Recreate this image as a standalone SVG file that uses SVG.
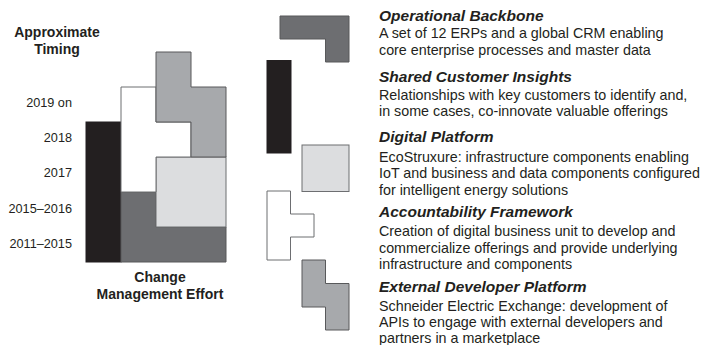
<svg xmlns="http://www.w3.org/2000/svg" width="706" height="345" viewBox="0 0 706 345">
<style>
.blk{fill:#231f20;stroke:#231f20;stroke-width:1}
.dk{fill:#6d6e71;stroke:#58595b;stroke-width:1}
.md{fill:#a7a9ac;stroke:#58595b;stroke-width:1}
.lt{fill:#dcdddf;stroke:#6d6e71;stroke-width:1}
.wh{fill:#ffffff;stroke:#6d6e71;stroke-width:1}
text{font-family:"Liberation Sans",Arial,sans-serif;fill:#231f20}
.lab{font-size:14px;font-weight:bold}
.yr{font-size:12.7px;text-anchor:end}
.ttl{font-size:15.5px;font-weight:bold;font-style:italic}
.body{font-size:14.3px}
</style>
<rect width="706" height="345" fill="#ffffff"/>
<g id="axis-labels">
<text class="lab" x="57" y="37" text-anchor="middle">Approximate</text>
<text class="lab" x="57" y="54" text-anchor="middle">Timing</text>
<text class="lab" x="160" y="282" text-anchor="middle">Change</text>
<text class="lab" x="160" y="298.5" text-anchor="middle">Management Effort</text>
<text class="yr" x="72" y="107">2019 on</text>
<text class="yr" x="72" y="142">2018</text>
<text class="yr" x="72" y="177">2017</text>
<text class="yr" x="72" y="212.5">2015–2016</text>
<text class="yr" x="72" y="247.5">2011–2015</text>
</g>
<g id="chart">
<rect class="blk" x="86" y="122" width="35" height="140"/>
<polygon class="dk" points="121,192 156,192 156,227 226,227 226,262 121,262"/>
<rect class="lt" x="156" y="157" width="70" height="70"/>
<polygon class="wh" points="121,87 156,87 156,122 191,122 191,157 156,157 156,192 121,192"/>
<polygon class="md" points="156,52 191,52 191,87 226,87 226,157 191,157 191,122 156,122"/>
</g>
<g id="operational-backbone">
<polygon class="dk" points="280,16 349,16 349,62 325.5,62 325.5,39 280,39"/>
<text class="ttl" x="379" y="21">Operational Backbone</text>
<text class="body" x="379" y="38">A set of 12 ERPs and a global CRM enabling</text>
<text class="body" x="379" y="54.5">core enterprise processes and master data</text>
</g>
<g id="shared-customer-insights">
<rect class="blk" x="267" y="60.5" width="24" height="92.5"/>
<text class="ttl" x="379" y="82">Shared Customer Insights</text>
<text class="body" x="379" y="100">Relationships with key customers to identify and,</text>
<text class="body" x="379" y="116">in some cases, co-innovate valuable offerings</text>
</g>
<g id="digital-platform">
<rect class="lt" x="302" y="145" width="47" height="46.5"/>
<text class="ttl" x="379" y="142">Digital Platform</text>
<text class="body" x="379" y="161.5">EcoStruxure: infrastructure components enabling</text>
<text class="body" x="379" y="178">IoT and business and data components configured</text>
<text class="body" x="379" y="194.5">for intelligent energy solutions</text>
</g>
<g id="accountability-framework">
<polygon class="wh" points="267,191 290.5,191 290.5,214 314,214 314,237 290.5,237 290.5,260 267,260"/>
<text class="ttl" x="379" y="217">Accountability Framework</text>
<text class="body" x="379" y="236">Creation of digital business unit to develop and</text>
<text class="body" x="379" y="252.5">commercialize offerings and provide underlying</text>
<text class="body" x="379" y="268.5">infrastructure and components</text>
</g>
<g id="external-developer-platform">
<polygon class="md" points="302,260 325.5,260 325.5,283.5 349,283.5 349,330 325.5,330 325.5,307 302,307"/>
<text class="ttl" x="379" y="292">External Developer Platform</text>
<text class="body" x="379" y="311">Schneider Electric Exchange: development of</text>
<text class="body" x="379" y="327">APIs to engage with external developers and</text>
<text class="body" x="379" y="343">partners in a marketplace</text>
</g>
<g id="connectors"/>
</svg>
